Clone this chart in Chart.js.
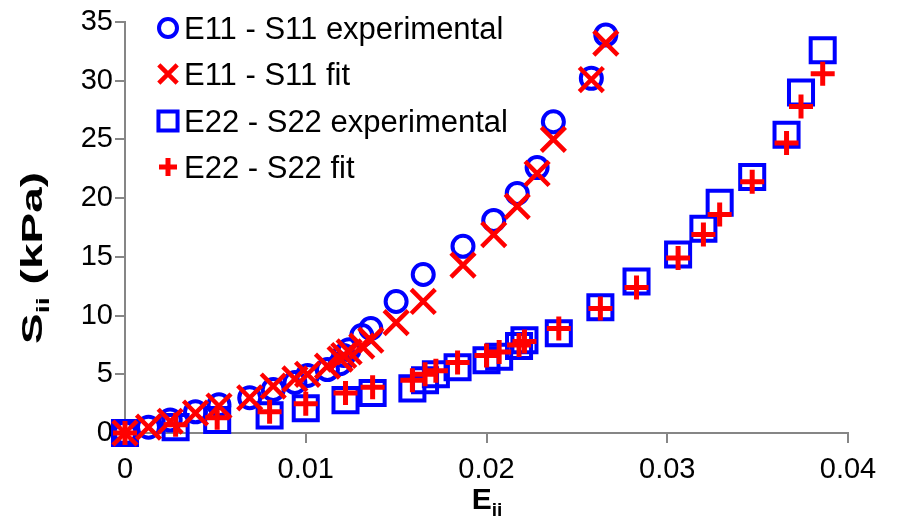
<!DOCTYPE html>
<html><head><meta charset="utf-8">
<script src="https://cdn.jsdelivr.net/npm/chart.js@4.4.0/dist/chart.umd.min.js"></script>
<style>html,body{margin:0;padding:0;background:#fff}#wrap{width:898px;height:529px}canvas{display:block}</style>
</head><body>
<div id="wrap"><canvas id="c" width="898" height="529"></canvas></div>
<script>
// ---- data ----
const e11X   = [0, 0.0013, 0.0025, 0.0039, 0.0052, 0.0069, 0.0082, 0.0094, 0.0101, 0.0112, 0.0119, 0.0121, 0.0124, 0.0131, 0.0136, 0.0150, 0.0165, 0.0187, 0.0204, 0.0217, 0.0228, 0.0237, 0.0258, 0.0266];
const e11Exp = [0, 0.5, 1.1, 1.8, 2.4, 3.0, 3.7, 4.3, 4.9, 5.4, 5.9, 6.6, 7.1, 8.3, 8.9, 11.2, 13.5, 15.9, 18.1, 20.4, 22.6, 26.5, 30.2, 33.9];
const e11Fit = [0, 0.5, 1.0, 1.7, 2.3, 3.0, 4.0, 4.6, 5.0, 5.7, 6.3, 6.6, 6.9, 7.4, 7.9, 9.4, 11.2, 14.3, 16.9, 19.3, 22.1, 25.0, 30.1, 33.2];
const e22X   = [0, 0.0028, 0.0051, 0.0080, 0.0100, 0.0122, 0.0137, 0.0159, 0.0166, 0.0172, 0.0184, 0.0200, 0.0207, 0.0218, 0.0221, 0.0240, 0.0263, 0.0283, 0.0306, 0.0320, 0.0329, 0.0347, 0.0366, 0.0374, 0.0386];
const e22Exp = [0, 0.5, 1.1, 1.5, 2.1, 2.8, 3.4, 3.8, 4.5, 5.0, 5.6, 6.2, 6.5, 7.4, 7.9, 8.5, 10.7, 12.9, 15.2, 17.4, 19.6, 21.8, 25.4, 29.0, 32.6];
const e22Fit = [0, 0.7, 1.3, 1.8, 2.5, 3.4, 3.9, 4.5, 5.0, 5.3, 6.0, 6.6, 6.9, 7.5, 7.8, 8.9, 10.6, 12.4, 14.9, 16.9, 18.6, 21.4, 24.7, 27.8, 30.6];
const seriesLabels = ['E11 - S11 experimental', 'E11 - S11 fit', 'E22 - S22 experimental', 'E22 - S22 fit'];
const xTitle = ['E', 'ii', ''];
const yTitle = ['S', 'ii', ' (kPa)'];

const FONT = "'Liberation Sans', Arial, sans-serif";
const AXIS = '#868686';
const BLUE = '#0000FF', RED = '#FF0000';

function pts(xs, ys) { return xs.map((x, i) => ({x: x, y: ys[i]})); }

const datasets = [
  {label: seriesLabels[0], data: pts(e11X, e11Exp), pointStyle: 'circle', pointRadius: 10.5, borderWidth: 4,
   borderColor: BLUE, backgroundColor: 'rgba(0,0,0,0)', order: 2, legendRadius: 9, legendWidth: 4},
  {label: seriesLabels[1], data: pts(e11X, e11Fit), pointStyle: 'crossRot', pointRadius: 17, borderWidth: 4.5,
   borderColor: RED, backgroundColor: RED, order: 0, legendRadius: 13, legendWidth: 4.5},
  {label: seriesLabels[2], data: pts(e22X, e22Exp), pointStyle: 'rect', pointRadius: 17, borderWidth: 4,
   borderColor: BLUE, backgroundColor: 'rgba(0,0,0,0)', order: 3, legendRadius: 13.5, legendWidth: 4},
  {label: seriesLabels[3], data: pts(e22X, e22Fit), pointStyle: 'cross', pointRadius: 12, borderWidth: 5,
   borderColor: RED, backgroundColor: RED, order: 1, legendRadius: 9, legendWidth: 5}
];
datasets.forEach(d => { d.showLine = false; d.clip = false; d.pointHoverRadius = d.pointRadius; });

const legendRows = [28, 74, 121, 167];

const extras = {
  id: 'extras',
  afterDraw(chart) {
    const ctx = chart.ctx;
    ctx.save();
    // legend
    chart.data.datasets.forEach((d, i) => {
      const y = legendRows[i];
      ctx.strokeStyle = d.borderColor; ctx.fillStyle = d.backgroundColor; ctx.lineWidth = d.legendWidth;
      Chart.helpers.drawPoint(ctx, {pointStyle: d.pointStyle, radius: d.legendRadius, rotation: 0, borderWidth: d.legendWidth}, 168, y);
      ctx.fillStyle = '#000';
      ctx.font = '31px ' + FONT;
      ctx.textBaseline = 'alphabetic'; ctx.textAlign = 'left';
      ctx.fillText(d.label, 184, y + 11);
    });
    // axis titles with subscripts
    function drawTitle(parts, cx, cy, rot, size, targetLen) {
      ctx.save();
      ctx.translate(cx, cy); ctx.rotate(rot);
      const big = 'bold ' + size + 'px ' + FONT, small = 'bold ' + Math.round(size * 0.64) + 'px ' + FONT;
      ctx.font = big; const w0 = ctx.measureText(parts[0]).width; const w2 = ctx.measureText(parts[2]).width;
      ctx.font = small; const w1 = ctx.measureText(parts[1]).width;
      const total = w0 + w1 + w2;
      const sx = targetLen ? targetLen / total : 1;
      ctx.scale(sx, 1);
      let x = -total / 2;
      const base = size * 0.36;
      ctx.fillStyle = '#000'; ctx.textBaseline = 'alphabetic'; ctx.textAlign = 'left';
      ctx.font = big; ctx.fillText(parts[0], x, base); x += w0;
      ctx.font = small; ctx.fillText(parts[1], x, base + size * 0.25); x += w1;
      ctx.font = big; ctx.fillText(parts[2], x, base);
      ctx.restore();
    }
    drawTitle(xTitle, 487, 498, 0, 30, 0);
    drawTitle(yTitle, 31, 258, -Math.PI / 2, 30, 172);
    ctx.restore();
  }
};

const fmt = v => (v === 0 ? '0' : String(+v.toFixed(2)));

new Chart(document.getElementById('c'), {
  type: 'scatter',
  data: {datasets: datasets},
  options: {
    responsive: false, animation: false, devicePixelRatio: 1,
    layout: {padding: {top: 22, right: 50, left: 0, bottom: 0}},
    plugins: {legend: {display: false}, tooltip: {enabled: false}},
    scales: {
      x: {
        type: 'linear', min: 0, max: 0.04,
        ticks: {stepSize: 0.01, color: '#000', font: {size: 29, family: FONT}, padding: 10, callback: fmt, maxRotation: 0},
        grid: {drawOnChartArea: false, drawTicks: true, tickLength: 10, color: AXIS, lineWidth: 2},
        border: {display: true, color: AXIS, width: 2},
        afterFit: s => { s.height = 96; }
      },
      y: {
        type: 'linear', min: 0, max: 35,
        ticks: {stepSize: 5, color: '#000', font: {size: 29, family: FONT}, padding: 2, callback: fmt},
        grid: {drawOnChartArea: false, drawTicks: true, tickLength: 10, color: AXIS, lineWidth: 2},
        border: {display: true, color: AXIS, width: 2},
        afterFit: s => { s.width = 125; }
      }
    }
  },
  plugins: [extras]
});
</script>
</body></html>
